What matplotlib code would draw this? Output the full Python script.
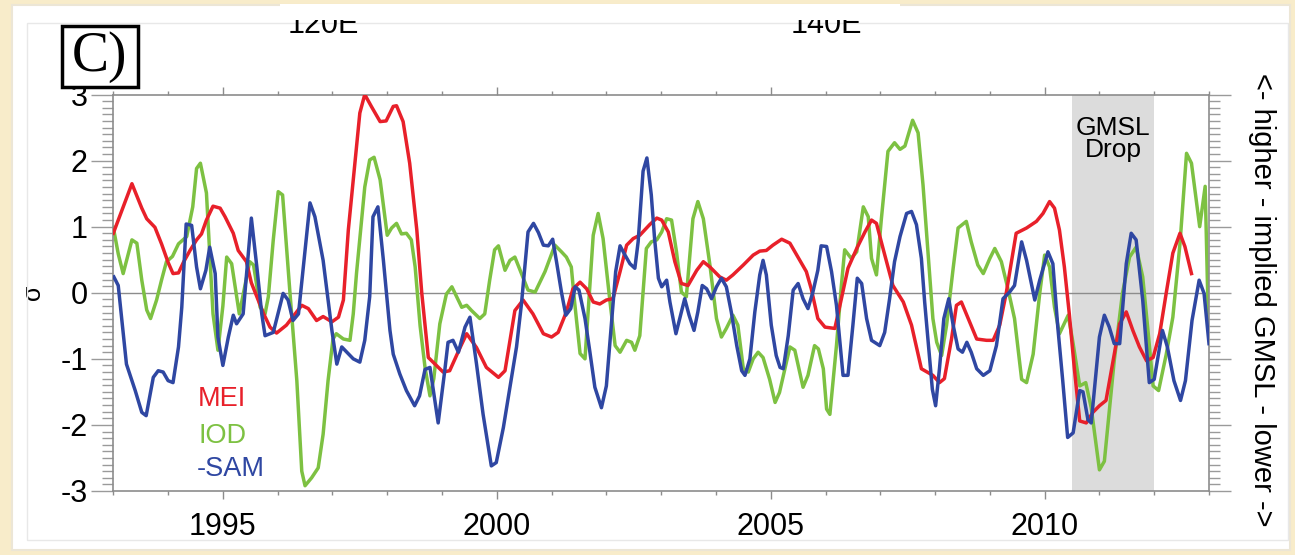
import matplotlib
matplotlib.use("Agg")
import matplotlib.pyplot as plt
from matplotlib.patches import Rectangle
from matplotlib.ticker import MultipleLocator

plt.rcParams['font.family'] = ['Liberation Sans', 'DejaVu Sans']
plt.rcParams['axes.unicode_minus'] = False

# MEI (red)
mei_t = [1993.0, 1993.34, 1993.52, 1993.61, 1993.76, 1993.88, 1994.0, 1994.09, 1994.19, 1994.28,
         1994.40, 1994.52, 1994.61, 1994.70, 1994.82, 1994.95, 1995.04, 1995.19, 1995.28, 1995.43,
         1995.52, 1995.74, 1995.86, 1995.98, 1996.16, 1996.44, 1996.56, 1996.71, 1996.83, 1996.99,
         1997.11, 1997.20, 1997.29, 1997.41, 1997.50, 1997.59, 1997.71, 1997.87, 1997.98, 1998.11,
         1998.17, 1998.29, 1998.41, 1998.54, 1998.63, 1998.75, 1999.02, 1999.14, 1999.33, 1999.45,
         1999.63, 1999.81, 2000.03, 2000.15, 2000.33, 2000.48, 2000.66, 2000.85, 2001.0, 2001.12,
         2001.27, 2001.39, 2001.52, 2001.64, 2001.76, 2001.88, 2002.0, 2002.12, 2002.25, 2002.37,
         2002.49, 2002.61, 2002.79, 2002.92, 2003.01, 2003.13, 2003.25, 2003.37, 2003.49, 2003.65,
         2003.77, 2003.89, 2004.07, 2004.19, 2004.31, 2004.50, 2004.68, 2004.80, 2004.92, 2005.04,
         2005.20, 2005.35, 2005.53, 2005.65, 2005.74, 2005.86, 2005.99, 2006.17, 2006.29, 2006.41,
         2006.57, 2006.72, 2006.84, 2006.93, 2007.05, 2007.23, 2007.42, 2007.57, 2007.75, 2007.96,
         2008.08, 2008.17, 2008.30, 2008.39, 2008.48, 2008.63, 2008.76, 2008.94, 2009.06, 2009.18,
         2009.30, 2009.48, 2009.67, 2009.85, 2009.97, 2010.09, 2010.18, 2010.27, 2010.36, 2010.45,
         2010.54, 2010.64, 2010.76, 2010.88, 2011.0, 2011.12, 2011.25, 2011.37, 2011.49, 2011.61,
         2011.73, 2011.86, 2011.98, 2012.10, 2012.22, 2012.34, 2012.47, 2012.56, 2012.68]
mei_v = [0.9, 1.65, 1.28, 1.12, 0.99, 0.74, 0.46, 0.29, 0.30, 0.46,
         0.64, 0.80, 0.89, 1.10, 1.31, 1.28, 1.15, 0.90, 0.64, 0.47,
         0.15, -0.31, -0.52, -0.61, -0.49, -0.19, -0.24, -0.42, -0.36, -0.44,
         -0.37, -0.11, 0.95, 1.96, 2.72, 3.0, 2.82, 2.59, 2.60, 2.82,
         2.83, 2.59, 1.96, 0.95, 0.0, -0.98, -1.2, -1.18, -0.83, -0.62,
         -0.83, -1.13, -1.28, -1.18, -0.27, -0.11, -0.32, -0.62, -0.67, -0.60,
         -0.29, 0.06, 0.16, 0.06, -0.14, -0.17, -0.11, -0.09, 0.32, 0.72,
         0.82, 0.87, 1.03, 1.13, 1.10, 0.92, 0.47, 0.14, 0.11, 0.34,
         0.47, 0.39, 0.24, 0.19, 0.27, 0.42, 0.57, 0.63, 0.64, 0.72,
         0.81, 0.75, 0.49, 0.32, 0.06, -0.39, -0.52, -0.54, -0.09, 0.37,
         0.67, 0.92, 1.10, 1.05, 0.67, 0.11, -0.14, -0.49, -1.15, -1.25,
         -1.36, -1.30, -0.70, -0.19, -0.14, -0.44, -0.70, -0.72, -0.72, -0.49,
         0.0, 0.90, 0.98, 1.08, 1.20, 1.38, 1.28, 0.95, 0.39, -0.32,
         -1.13, -1.94, -1.97, -1.81, -1.71, -1.63, -1.03, -0.47, -0.29, -0.57,
         -0.82, -1.03, -0.98, -0.62, 0.0, 0.60, 0.90, 0.70, 0.29]

# IOD (green)
iod_t = [1993.0, 1993.09, 1993.18, 1993.34, 1993.43, 1993.52, 1993.61, 1993.68, 1993.79, 1993.88,
         1993.97, 1994.08, 1994.19, 1994.34, 1994.45, 1994.52, 1994.59, 1994.70, 1994.82, 1994.91,
         1995.0, 1995.07, 1995.16, 1995.30, 1995.40, 1995.49, 1995.56, 1995.68, 1995.77, 1995.83,
         1995.92, 1996.01, 1996.09, 1996.16, 1996.22, 1996.35, 1996.44, 1996.50, 1996.62, 1996.74,
         1996.83, 1996.92, 1997.01, 1997.07, 1997.20, 1997.32, 1997.38, 1997.44, 1997.59, 1997.68,
         1997.76, 1997.87, 1998.0, 1998.08, 1998.17, 1998.26, 1998.35, 1998.44, 1998.51, 1998.60,
         1998.69, 1998.78, 1998.85, 1998.96, 1999.08, 1999.18, 1999.36, 1999.45, 1999.54, 1999.69,
         1999.78, 1999.87, 1999.96, 2000.03, 2000.15, 2000.24, 2000.33, 2000.45, 2000.57, 2000.70,
         2000.88, 2001.06, 2001.18, 2001.27, 2001.36, 2001.42, 2001.52, 2001.61, 2001.70, 2001.76,
         2001.85, 2001.94, 2002.06, 2002.16, 2002.25, 2002.37, 2002.46, 2002.52, 2002.61, 2002.73,
         2002.82, 2002.92, 2003.01, 2003.10, 2003.19, 2003.28, 2003.37, 2003.46, 2003.58, 2003.67,
         2003.77, 2003.89, 2004.01, 2004.10, 2004.19, 2004.31, 2004.40, 2004.50, 2004.59, 2004.68,
         2004.77, 2004.86, 2004.98, 2005.08, 2005.16, 2005.35, 2005.44, 2005.59, 2005.68, 2005.80,
         2005.87, 2005.96, 2006.02, 2006.08, 2006.20, 2006.29, 2006.35, 2006.47, 2006.57, 2006.69,
         2006.78, 2006.84, 2006.93, 2007.02, 2007.14, 2007.26, 2007.36, 2007.45, 2007.59, 2007.69,
         2007.78, 2007.87, 2007.96, 2008.03, 2008.12, 2008.21, 2008.33, 2008.42, 2008.57, 2008.66,
         2008.78, 2008.88, 2009.0, 2009.09, 2009.21, 2009.33, 2009.45, 2009.58, 2009.67, 2009.79,
         2009.91, 2010.0, 2010.09, 2010.18, 2010.27, 2010.43, 2010.52, 2010.64, 2010.75, 2010.85,
         2011.0, 2011.09, 2011.18, 2011.27, 2011.42, 2011.55, 2011.67, 2011.79, 2011.88, 2011.98,
         2012.08, 2012.22, 2012.34, 2012.47, 2012.59, 2012.68, 2012.83, 2012.93, 2012.99]
iod_v = [0.99, 0.59, 0.29, 0.80, 0.75, 0.19, -0.26, -0.39, -0.11, 0.19,
         0.47, 0.55, 0.74, 0.85, 1.30, 1.88, 1.96, 1.51, -0.32, -0.87,
         -0.20, 0.54, 0.44, -0.32, 0.10, 0.47, 0.42, -0.22, -0.32, -0.06,
         0.80, 1.53, 1.48, 0.70, 0.05, -1.33, -2.70, -2.92, -2.80, -2.65,
         -2.14, -1.33, -0.70, -0.62, -0.70, -0.72, -0.32, 0.30, 1.60, 2.01,
         2.05, 1.71, 0.87, 0.98, 1.05, 0.89, 0.90, 0.80, 0.39, -0.50,
         -1.13, -1.56, -1.30, -0.47, -0.02, 0.09, -0.22, -0.19, -0.27, -0.39,
         -0.32, 0.19, 0.65, 0.71, 0.34, 0.49, 0.54, 0.29, 0.04, 0.01,
         0.32, 0.72, 0.62, 0.54, 0.39, -0.14, -0.92, -1.0, 0.11, 0.87,
         1.20, 0.82, -0.09, -0.80, -0.90, -0.72, -0.75, -0.87, -0.65, 0.67,
         0.77, 0.80, 0.92, 1.12, 1.10, 0.62, 0.01, -0.06, 1.12, 1.38,
         1.12, 0.42, -0.39, -0.67, -0.54, -0.34, -0.49, -1.15, -1.20, -1.0,
         -0.90, -0.98, -1.31, -1.66, -1.51, -0.82, -0.87, -1.43, -1.25, -0.80,
         -0.85, -1.15, -1.76, -1.84, -0.80, 0.11, 0.65, 0.52, 0.62, 1.30,
         1.15, 0.52, 0.27, 1.12, 2.14, 2.27, 2.17, 2.22, 2.61, 2.42,
         1.63, 0.62, -0.39, -0.75, -0.95, -0.49, 0.37, 0.98, 1.08, 0.77,
         0.42, 0.29, 0.52, 0.67, 0.47, 0.06, -0.39, -1.31, -1.36, -0.93,
         -0.01, 0.57, 0.39, -0.22, -0.62, -0.34, -0.77, -1.41, -1.36, -1.74,
         -2.68, -2.55, -1.79, -1.03, -0.01, 0.54, 0.69, 0.24, -0.52, -1.41,
         -1.48, -0.93, -0.37, 0.74, 2.11, 1.96, 1.00, 1.61, -0.52]

# -SAM (blue)
sam_t = [1993.01, 1993.09, 1993.24, 1993.40, 1993.52, 1993.60, 1993.73, 1993.82, 1993.91, 1994.0,
         1994.09, 1994.19, 1994.25, 1994.33, 1994.43, 1994.52, 1994.59, 1994.69, 1994.76, 1994.86,
         1994.91, 1995.0, 1995.10, 1995.19, 1995.25, 1995.37, 1995.52, 1995.62, 1995.71, 1995.77,
         1995.92, 1996.10, 1996.19, 1996.28, 1996.38, 1996.59, 1996.68, 1996.83, 1996.99, 1997.08,
         1997.17, 1997.38, 1997.50, 1997.59, 1997.68, 1997.74, 1997.83, 1997.93, 1998.05, 1998.11,
         1998.23, 1998.35, 1998.50, 1998.59, 1998.69, 1998.78, 1998.93, 1999.05, 1999.11, 1999.20,
         1999.30, 1999.42, 1999.51, 1999.63, 1999.75, 1999.90, 1999.99, 2000.12, 2000.24, 2000.36,
         2000.45, 2000.57, 2000.67, 2000.76, 2000.85, 2000.94, 2001.02, 2001.09, 2001.18, 2001.26,
         2001.35, 2001.43, 2001.50, 2001.61, 2001.70, 2001.79, 2001.91, 2002.0, 2002.09, 2002.17,
         2002.25, 2002.34, 2002.43, 2002.52, 2002.58, 2002.67, 2002.74, 2002.82, 2002.88, 2002.95,
         2003.01, 2003.10, 2003.16, 2003.27, 2003.34, 2003.43, 2003.51, 2003.60, 2003.67, 2003.75,
         2003.83, 2003.92, 2004.01, 2004.10, 2004.19, 2004.28, 2004.38, 2004.47, 2004.53, 2004.62,
         2004.71, 2004.80, 2004.86, 2004.92, 2005.01, 2005.10, 2005.17, 2005.23, 2005.32, 2005.41,
         2005.50, 2005.59, 2005.68, 2005.77, 2005.86, 2005.92, 2006.02, 2006.11, 2006.20, 2006.32,
         2006.41, 2006.50, 2006.58, 2006.66, 2006.75, 2006.84, 2006.99, 2007.08, 2007.17, 2007.26,
         2007.36, 2007.48, 2007.57, 2007.66, 2007.75, 2007.81, 2007.90, 2007.95, 2008.01, 2008.08,
         2008.16, 2008.25, 2008.33, 2008.42, 2008.50, 2008.58, 2008.66, 2008.76, 2008.88, 2009.0,
         2009.12, 2009.24, 2009.36, 2009.45, 2009.58, 2009.67, 2009.82, 2009.91, 2010.06, 2010.15,
         2010.24, 2010.33, 2010.42, 2010.52, 2010.64, 2010.70, 2010.79, 2010.85, 2011.0, 2011.09,
         2011.18, 2011.27, 2011.37, 2011.49, 2011.58, 2011.67, 2011.79, 2011.91, 2012.0, 2012.15,
         2012.24, 2012.36, 2012.48, 2012.57, 2012.69, 2012.82, 2012.91, 2013.0]
sam_v = [0.24, 0.11, -1.08, -1.48, -1.81, -1.86, -1.28, -1.18, -1.20, -1.33,
         -1.36, -0.82, -0.22, 1.04, 1.02, 0.39, 0.06, 0.34, 0.69, 0.29,
         -0.67, -1.10, -0.67, -0.34, -0.47, -0.32, 1.13, 0.39, -0.32, -0.65,
         -0.60, -0.01, -0.11, -0.42, -0.32, 1.36, 1.15, 0.49, -0.57, -1.08,
         -0.82, -1.0, -1.05, -0.72, -0.06, 1.15, 1.30, 0.49, -0.57, -0.93,
         -1.23, -1.48, -1.71, -1.56, -1.16, -1.13, -1.97, -1.18, -0.75, -0.72,
         -0.90, -0.52, -0.37, -1.08, -1.84, -2.62, -2.57, -2.04, -1.43, -0.82,
         -0.17, 0.92, 1.05, 0.91, 0.72, 0.71, 0.81, 0.47, 0.01, -0.34,
         -0.24, 0.09, 0.04, -0.39, -0.90, -1.43, -1.74, -1.41, -0.49, 0.32,
         0.71, 0.57, 0.44, 0.37, 0.77, 1.84, 2.04, 1.48, 0.82, 0.22,
         0.09, 0.19, -0.14, -0.62, -0.39, -0.09, -0.34, -0.57, -0.29, 0.11,
         0.06, -0.09, 0.09, 0.22, 0.09, -0.29, -0.80, -1.18, -1.25, -1.0,
         -0.29, 0.27, 0.49, 0.27, -0.49, -0.95, -1.13, -1.15, -0.65, 0.04,
         0.14, -0.09, -0.24, 0.01, 0.34, 0.71, 0.70, 0.32, -0.19, -1.25,
         -1.25, -0.49, 0.22, 0.14, -0.39, -0.72, -0.80, -0.60, -0.09, 0.47,
         0.85, 1.20, 1.23, 1.03, 0.52, -0.14, -1.0, -1.46, -1.71, -1.15,
         -0.39, -0.09, -0.49, -0.85, -0.90, -0.75, -0.90, -1.15, -1.25, -1.18,
         -0.80, -0.09, 0.01, 0.11, 0.77, 0.49, -0.11, 0.19, 0.62, 0.44,
         -0.52, -1.33, -2.19, -2.12, -1.48, -1.50, -1.92, -1.97, -0.67, -0.34,
         -0.52, -0.77, -0.77, 0.44, 0.90, 0.80, -0.11, -1.36, -1.31, -0.57,
         -0.82, -1.33, -1.63, -1.33, -0.42, 0.19, -0.01, -0.77]

drop_span = (2010.5, 2012.0)
year_ticks = [1995, 2000, 2005, 2010]
sigma_ticks = [-3, -2, -1, 0, 1, 2, 3]

W, H = 1295, 555
fig = plt.figure(figsize=(W / 100, H / 100), dpi=100, facecolor='#f8ecca')


def fx(x):
    return x / W


def fy(y):
    return 1 - y / H


# white panel and faint inner frame
fig.add_artist(Rectangle((fx(12), fy(550)), fx(1290) - fx(12), fy(5) - fy(550),
                         transform=fig.transFigure, facecolor='white', edgecolor='#ece6d6', lw=1.5, zorder=0))
fig.add_artist(Rectangle((fx(27), fy(540)), fx(1288) - fx(27), fy(23) - fy(540),
                         transform=fig.transFigure, facecolor='none', edgecolor='#e8e8e8', lw=1, zorder=1))

ax_l, ax_r, ax_t, ax_b = 113.3, 1209, 94.5, 491
ax = fig.add_axes([fx(ax_l), fy(ax_b), fx(ax_r) - fx(ax_l), fy(ax_t) - fy(ax_b)])
ax.set_facecolor('none')

ax.axvspan(drop_span[0], drop_span[1], color='#dcdcdc', lw=0, zorder=0)
ax.axhline(0, color='#8c8c8c', lw=1, zorder=1)

lw = 2.5
ax.plot(mei_t, mei_v, color='#e8202a', lw=lw, zorder=3)
ax.plot(iod_t, iod_v, color='#7dc142', lw=lw, zorder=2)
ax.plot(sam_t, sam_v, color='#2f47a2', lw=lw, zorder=4)

ax.set_xlim(1993, 2013)
ax.set_ylim(-3, 3)
ax.set_xticks(year_ticks)
ax.xaxis.set_minor_locator(MultipleLocator(1))
ax.set_yticks(sigma_ticks)
ax.yaxis.set_minor_locator(MultipleLocator(0.1))

for s in ax.spines.values():
    s.set_color('#8c8c8c')
    s.set_linewidth(1.2)

ax.tick_params(axis='x', which='major', direction='out', length=6, width=1, color='#8c8c8c',
               top=True, labeltop=False, labelsize=22, pad=9)
ax.tick_params(axis='x', which='minor', direction='out', length=3, width=1, color='#8c8c8c', top=True)
ax.tick_params(axis='y', which='major', direction='out', length=15.5, width=1, color='#9a9a9a',
               right=True, labelright=False, labelsize=22, pad=3)
ax.tick_params(axis='y', which='minor', direction='out', length=8, width=1, color='#9a9a9a', right=True)

ax.set_ylabel('σ', fontsize=18)
ax.yaxis.set_label_coords((45 - ax_l) / (ax_r - ax_l), 0.5)

# legend labels
ax.text(1994.55, -1.72, 'MEI', color='#e8202a', fontsize=19.5)
ax.text(1994.55, -2.27, 'IOD', color='#7dc142', fontsize=19.5)
ax.text(1994.53, -2.77, '-SAM', color='#2f47a2', fontsize=19.5)

ax.text(sum(drop_span) / 2, 2.68, 'GMSL\nDrop', ha='center', va='top', fontsize=19, linespacing=0.92)

# right-hand annotation
fig.text(fx(1262), fy(300), '<- higher - implied GMSL - lower ->', rotation=-90,
         ha='center', va='center', fontsize=21)

# panel label
fig.add_artist(Rectangle((fx(62), fy(87)), fx(138) - fx(62), fy(26) - fy(87),
                         transform=fig.transFigure, facecolor='white', edgecolor='black', lw=2.5, zorder=5))
fig.text(fx(100), fy(57), 'C)', family=['Liberation Serif', 'DejaVu Serif'], fontsize=40,
         ha='center', va='center', zorder=6)

# map labels cut off at the top
fig.text(fx(323), fy(33), '120E', ha='center', va='baseline', fontsize=22, zorder=2)
fig.text(fx(826), fy(33), '140E', ha='center', va='baseline', fontsize=22, zorder=2)
fig.add_artist(Rectangle((fx(280), fy(20)), fx(900) - fx(280), fy(4) - fy(20),
                         transform=fig.transFigure, facecolor='white', edgecolor='none', zorder=3))

fig.savefig('out.png', dpi=100, facecolor=fig.get_facecolor())
